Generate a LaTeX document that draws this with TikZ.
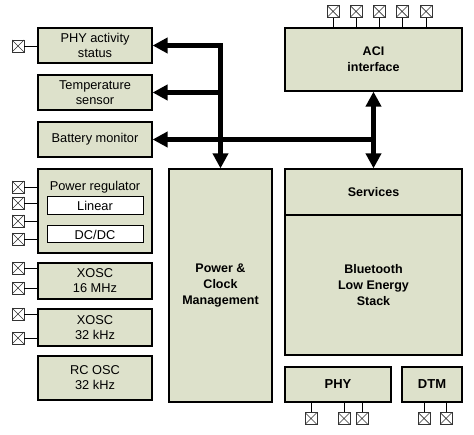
\documentclass[tikz,border=0pt]{standalone}
\usepackage{fontspec}
\setmainfont{Liberation Sans}
\usetikzlibrary{arrows.meta}
\definecolor{boxfill}{RGB}{221,225,203}
\tikzset{
  blk/.style={draw=black, fill=boxfill, line width=1.2pt, inner sep=0pt, align=center,
    font=\fontsize{12.8}{15}\selectfont},
  bblk/.style={blk, font=\fontsize{12.5}{16}\selectfont\bfseries},
  wbox/.style={draw=black, fill=white, line width=1pt, inner sep=0pt,
    font=\fontsize{12.8}{15}\selectfont},
  pinbox/.style={draw=black!80, fill=white, line width=0.7pt, minimum size=12pt, inner sep=0pt,
    path picture={\draw[black!80, line width=0.7pt]
      (path picture bounding box.north west) -- (path picture bounding box.south east)
      (path picture bounding box.south west) -- (path picture bounding box.north east);}},
  pinline/.style={draw=black, line width=0.8pt},
  bus/.style={line width=4.7pt, draw=black},
  tip/.style={-{Triangle[length=15pt,width=15pt]}},
  tips/.style={{Triangle[length=15pt,width=15pt]}-{Triangle[length=15pt,width=15pt]}}
}
\begin{document}
\begin{tikzpicture}[x=1pt,y=-1pt]
\useasboundingbox (0,0) rectangle (474,435);
% left column
\node[blk, minimum width=114pt, minimum height=35pt] (phyact) at (95,45.5) {PHY activity\\status};
\node[blk, minimum width=114pt, minimum height=35pt] (temp) at (95,92.5) {Temperature\\sensor};
\node[blk, minimum width=114pt, minimum height=35pt] (batt) at (95,139.5) {Battery monitor};
\node[blk, minimum width=114pt, minimum height=84pt] (preg) at (95,211) {};
\node[font=\fontsize{12.8}{15}\selectfont, inner sep=0pt] (pregt) at (95,187) {Power regulator};
\node[wbox, minimum width=96pt, minimum height=18pt] (lin) at (95,206) {Linear};
\node[wbox, minimum width=96pt, minimum height=17pt] (dcdc) at (95,234.5) {DC/DC};
\node[blk, minimum width=114pt, minimum height=36pt] (x16) at (95,281) {XOSC\\16 MHz};
\node[blk, minimum width=114pt, minimum height=37pt] (x32) at (95,327.5) {XOSC\\32 kHz};
\node[blk, minimum width=114pt, minimum height=44pt] (rc) at (95,378) {RC OSC\\32 kHz};
% middle / right
\node[bblk, minimum width=103pt, minimum height=233pt] (pcm) at (220.5,285.5) {Power \&\\Clock\\Management};
\node[bblk, minimum width=177pt, minimum height=63pt] (aci) at (373.5,59.5) {ACI\\interface};
\node[bblk, minimum width=177pt, minimum height=46pt] (serv) at (373.5,192) {Services};
\node[bblk, minimum width=177pt, minimum height=140pt] (ble) at (373.5,285) {Bluetooth\\Low Energy\\Stack};
\node[bblk, font=\fontsize{13}{15}\selectfont\bfseries, minimum width=106pt, minimum height=35pt] (phy) at (338,384.5) {PHY};
\node[bblk, font=\fontsize{13}{15}\selectfont\bfseries, minimum width=60pt, minimum height=35pt] (dtm) at (432,384.5) {DTM};
% left pins
\foreach \n/\y/\b in {p1/46/phyact, p2/187/preg, p3/203/preg, p4/221/preg, p5/239/preg, p6/268/x16, p7/288/x16, p8/314/x32, p9/338/x32}{
  \node[pinbox] (\n) at (18,\y) {};
  \draw[pinline] (\n.east) -- (\n.east -| \b.west);
}
% top pins
\foreach \n/\x in {t1/333, t2/356, t3/379, t4/402, t5/426}{
  \node[pinbox] (\n) at (\x,11.5) {};
  \draw[pinline] (\n.south) -- (\n.south |- aci.north);
}
% bottom pins
\foreach \n/\x/\b in {b1/311/phy, b2/344/phy, b3/362/phy, b4/424/dtm, b5/446/dtm}{
  \node[pinbox] (\n) at (\x,418.5) {};
  \draw[pinline] (\n.north) -- (\n.north |- \b.south);
}
% buses
\draw[bus, tips] (phyact.east) -- (pcm.north |- phyact.east) -- (pcm.north);
\draw[bus, tip] (pcm.north |- temp.east) -- (temp.east);
\draw[bus, tip] (aci.south |- batt.east) -- (batt.east);
\draw[bus, tips] (aci.south) -- (serv.north);
\end{tikzpicture}
\end{document}
